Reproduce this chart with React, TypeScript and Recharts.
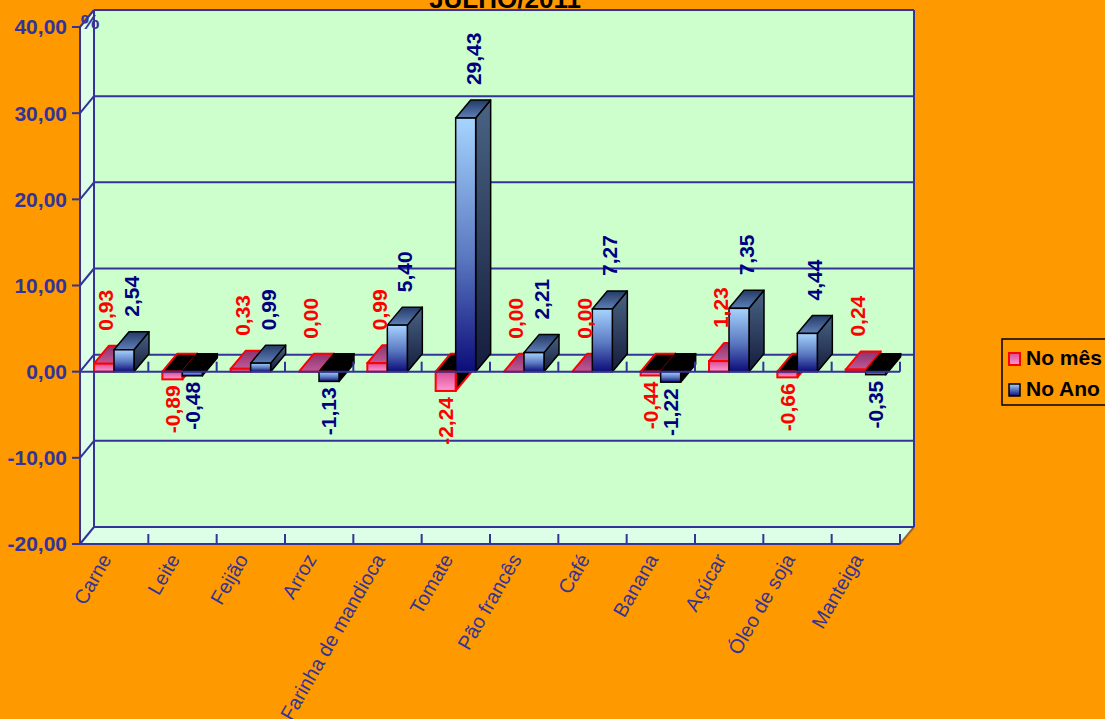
import { BarChart, Bar, XAxis, YAxis, CartesianGrid, ReferenceLine, LabelList } from "recharts"

const categories = [
  "Carne", "Leite", "Feijão", "Arroz", "Farinha de mandioca", "Tomate",
  "Pão francês", "Café", "Banana", "Açúcar", "Óleo de soja", "Manteiga",
]
const noMes = [0.93, -0.89, 0.33, 0.0, 0.99, -2.24, 0.0, 0.0, -0.44, 1.23, -0.66, 0.24]
const noAno = [2.54, -0.48, 0.99, -1.13, 5.4, 29.43, 2.21, 7.27, -1.22, 7.35, 4.44, -0.35]
const yTicks = [-20, -10, 0, 10, 20, 30, 40]
const seriesNames = ["No mês", "No Ano"]
const chartTitle = "JULHO/2011"

const data = categories.map((name, i) => ({ name, noMes: noMes[i], noAno: noAno[i] }))

const BG = "#FF9900"
const WALL = "#CCFFCC"
const SIDE = "#DDFFE8"
const AXIS = "#333399"
const FONT = "'Liberation Sans', Arial, sans-serif"
// depth of the walls and of the boxes
const WX = 14, WY = 17
const BX = 15, BY = 18

const fmt = (v: number) => v.toFixed(2).replace(".", ",")

// 3D box for a bar
function makeBox(kind: "mes" | "ano") {
  return (p: any) => {
    const { x, y, width: w, height: h, value } = p
    const v = Array.isArray(value) ? value[1] : value
    const top = Math.min(y, y + h)
    const bot = Math.max(y, y + h)
    const neg = v < 0
    const stroke = kind === "mes" ? "#FF0000" : "#000000"
    const sw = kind === "mes" ? 2 : 1.5
    return (
      <g>
        <polygon
          points={`${x + w},${top} ${x + w + BX},${top - BY} ${x + w + BX},${bot - BY} ${x + w},${bot}`}
          fill={neg ? "#000" : `url(#${kind}-side)`} stroke={stroke} strokeWidth={sw} strokeLinejoin="round"
        />
        <polygon
          points={`${x},${top} ${x + BX},${top - BY} ${x + w + BX},${top - BY} ${x + w},${top}`}
          fill={neg ? "#000" : `url(#${kind}-top)`} stroke={stroke} strokeWidth={sw} strokeLinejoin="round"
        />
        <rect x={x} y={top} width={w} height={bot - top} fill={`url(#${kind}-front)`} stroke={stroke} strokeWidth={sw} />
      </g>
    )
  }
}

function makeLabel(color: string, shift: number) {
  return (p: any) => {
    const vb = p.viewBox ?? p
    const x = vb.x ?? p.x, y = vb.y ?? p.y
    const w = vb.width ?? p.width, h = vb.height ?? p.height
    const v = Number(p.value)
    const top = Math.min(y, y + h)
    const bot = Math.max(y, y + h)
    const common = {
      fill: color, fontSize: 21, fontWeight: 700, fontFamily: FONT, dominantBaseline: "central" as const,
    }
    if (v >= 0) {
      const cx = x + w / 2 + shift
      const ly = top - BY - 15
      return (
        <text x={cx} y={ly} transform={`rotate(-90 ${cx} ${ly})`} textAnchor="start" {...common}>
          {fmt(v)}
        </text>
      )
    }
    const cx = x + w / 2
    const ly = bot + 6
    return (
      <text x={cx} y={ly} transform={`rotate(-90 ${cx} ${ly})`} textAnchor="end" {...common}>
        {fmt(v)}
      </text>
    )
  }
}

// back wall, side wall, floor and the grid lines on them
const gridLine = (p: any) => {
  const { x1, y1, x2, index } = p
  const gx = p.x, gy = p.y, gw = p.width, gh = p.height
  return (
    <g key={`gl-${index}`}>
      {index === 0 && gw != null && (
        <g>
          <rect x={gx + WX} y={gy - WY} width={gw} height={gh} fill={WALL} />
          <polygon points={`${gx},${gy} ${gx + WX},${gy - WY} ${gx + WX},${gy + gh - WY} ${gx},${gy + gh}`} fill={SIDE} />
          <polygon points={`${gx},${gy + gh} ${gx + WX},${gy + gh - WY} ${gx + gw + WX},${gy + gh - WY} ${gx + gw},${gy + gh}`} fill={SIDE} />
          <line x1={gx + WX} y1={gy - WY} x2={gx + WX} y2={gy + gh - WY} stroke={AXIS} strokeWidth={2} />
          <line x1={gx + gw + WX} y1={gy - WY} x2={gx + gw + WX} y2={gy + gh - WY} stroke={AXIS} strokeWidth={2} />
          <line x1={gx + gw} y1={gy + gh} x2={gx + gw + WX} y2={gy + gh - WY} stroke="#996633" strokeWidth={2} />
        </g>
      )}
      <line x1={x1 + WX} y1={y1 - WY} x2={x2 + WX} y2={y1 - WY} stroke={AXIS} strokeWidth={2} />
      <line x1={x1} y1={y1} x2={x1 + WX} y2={y1 - WY} stroke={AXIS} strokeWidth={2} />
    </g>
  )
}

// axis at zero with tick marks between categories
const zeroLine = (p: any) => {
  const { x1, y1, x2 } = p
  const step = (x2 - x1) / categories.length
  return (
    <g>
      <line x1={x1} y1={y1} x2={x2} y2={y1} stroke={AXIS} strokeWidth={2} />
      {categories.map((c, i) => (
        <line key={c} x1={x1 + step * (i + 1)} y1={y1} x2={x1 + step * (i + 1)} y2={y1 - 10} stroke={AXIS} strokeWidth={2} />
      ))}
    </g>
  )
}

const CategoryTick = (p: any) => {
  const { x, y, payload, index, width, visibleTicksCount } = p
  const bw = width / (visibleTicksCount || categories.length)
  const tx = x - 2
  const ty = y + 15
  return (
    <g>
      <line x1={x - bw / 2} y1={y} x2={x - bw / 2} y2={y - 10} stroke={AXIS} strokeWidth={2} />
      {index === categories.length - 1 && (
        <line x1={x + bw / 2} y1={y} x2={x + bw / 2} y2={y - 10} stroke={AXIS} strokeWidth={2} />
      )}
      <text x={tx} y={ty} transform={`rotate(-60 ${tx} ${ty})`} textAnchor="end" fill={AXIS} fontSize={20} fontFamily={FONT}>
        {payload.value}
      </text>
    </g>
  )
}

const PercentLabel = (p: any) => {
  const vb = p.viewBox ?? {}
  const px = (vb.x ?? 0) + (vb.width ?? 80) + 10
  const py = (vb.y ?? 27) + 2
  return (
    <text x={px} y={py} textAnchor="middle" fill={AXIS} fontSize={21} fontWeight={700} fontFamily={FONT}>%</text>
  )
}

const legendColors = [
  { fill: "url(#leg-mes)", stroke: "#FF0000", sw: 2 },
  { fill: "url(#leg-ano)", stroke: "#000000", sw: 1.5 },
]

export default function App() {
  return (
    <div style={{ position: "absolute", left: 0, top: 0, width: 1105, height: 719, background: BG, overflow: "hidden" }}>
      <BarChart
        width={1105}
        height={719}
        data={data}
        margin={{ top: 27, right: 205, bottom: 5, left: 0 }}
        barSize={20}
        barGap={0}
      >
        <defs>
          <linearGradient id="mes-front" x1="0" y1="0" x2="0" y2="1">
            <stop offset="0%" stopColor="#D94C92" />
            <stop offset="100%" stopColor="#FF99D6" />
          </linearGradient>
          <linearGradient id="mes-top" x1="0" y1="0" x2="0" y2="1">
            <stop offset="0%" stopColor="#8C3370" />
            <stop offset="100%" stopColor="#C05A96" />
          </linearGradient>
          <linearGradient id="mes-side" x1="0" y1="0" x2="0" y2="1">
            <stop offset="0%" stopColor="#803060" />
            <stop offset="100%" stopColor="#401030" />
          </linearGradient>
          <linearGradient id="ano-front" x1="0" y1="0" x2="0" y2="1">
            <stop offset="0%" stopColor="#A6D4FF" />
            <stop offset="55%" stopColor="#5A78C0" />
            <stop offset="100%" stopColor="#0C0C7A" />
          </linearGradient>
          <linearGradient id="ano-top" x1="0" y1="0" x2="0" y2="1">
            <stop offset="0%" stopColor="#243A66" />
            <stop offset="100%" stopColor="#5E80B8" />
          </linearGradient>
          <linearGradient id="ano-side" x1="0" y1="0" x2="0" y2="1">
            <stop offset="0%" stopColor="#4A6484" />
            <stop offset="100%" stopColor="#141C3C" />
          </linearGradient>
        </defs>
        <CartesianGrid horizontal={gridLine} vertical={false} />
        <XAxis
          dataKey="name"
          type="category"
          height={170}
          interval={0}
          axisLine={{ stroke: AXIS, strokeWidth: 2 }}
          tickLine={false}
          tickSize={0}
          tickMargin={0}
          tick={<CategoryTick />}
        />
        <YAxis
          width={80}
          domain={[-20, 40]}
          ticks={yTicks}
          allowDataOverflow
          axisLine={{ stroke: AXIS, strokeWidth: 2 }}
          tickLine={{ stroke: AXIS, strokeWidth: 2 }}
          tickSize={8}
          tickMargin={5}
          tick={{ fill: AXIS, fontSize: 21, fontWeight: 700, fontFamily: FONT }}
          tickFormatter={(v: number) => fmt(v)}
          label={<PercentLabel />}
        />
        <ReferenceLine y={0} shape={zeroLine} />
        <Bar dataKey="noMes" name={seriesNames[0]} isAnimationActive={false} shape={makeBox("mes")}>
          <LabelList dataKey="noMes" content={makeLabel("#FF0000", 2)} />
        </Bar>
        <Bar dataKey="noAno" name={seriesNames[1]} isAnimationActive={false} shape={makeBox("ano")}>
          <LabelList dataKey="noAno" content={makeLabel("#000080", BX / 2)} />
        </Bar>
      </BarChart>
      <svg width={1105} height={719} style={{ position: "absolute", left: 0, top: 0, pointerEvents: "none" }}>
        <defs>
          <linearGradient id="leg-mes" x1="0" y1="0" x2="0" y2="1">
            <stop offset="0%" stopColor="#D94C92" />
            <stop offset="100%" stopColor="#FF99D6" />
          </linearGradient>
          <linearGradient id="leg-ano" x1="0" y1="0" x2="0" y2="1">
            <stop offset="0%" stopColor="#A6D4FF" />
            <stop offset="100%" stopColor="#0C0C7A" />
          </linearGradient>
        </defs>
        <text x={505} y={8} textAnchor="middle" fill="#000" fontSize={26} fontWeight={700} fontFamily={FONT}>
          {chartTitle}
        </text>
        <rect x={1002} y={339} width={120} height={66} fill="none" stroke="#000" strokeWidth={1.5} />
        {seriesNames.map((s, i) => (
          <g key={s}>
            <rect x={1009} y={353 + i * 31} width={11} height={12} fill={legendColors[i].fill} stroke={legendColors[i].stroke} strokeWidth={legendColors[i].sw} />
            <text x={1026} y={365 + i * 31} fill="#000" fontSize={21} fontWeight={700} fontFamily={FONT}>{s}</text>
          </g>
        ))}
      </svg>
    </div>
  )
}
